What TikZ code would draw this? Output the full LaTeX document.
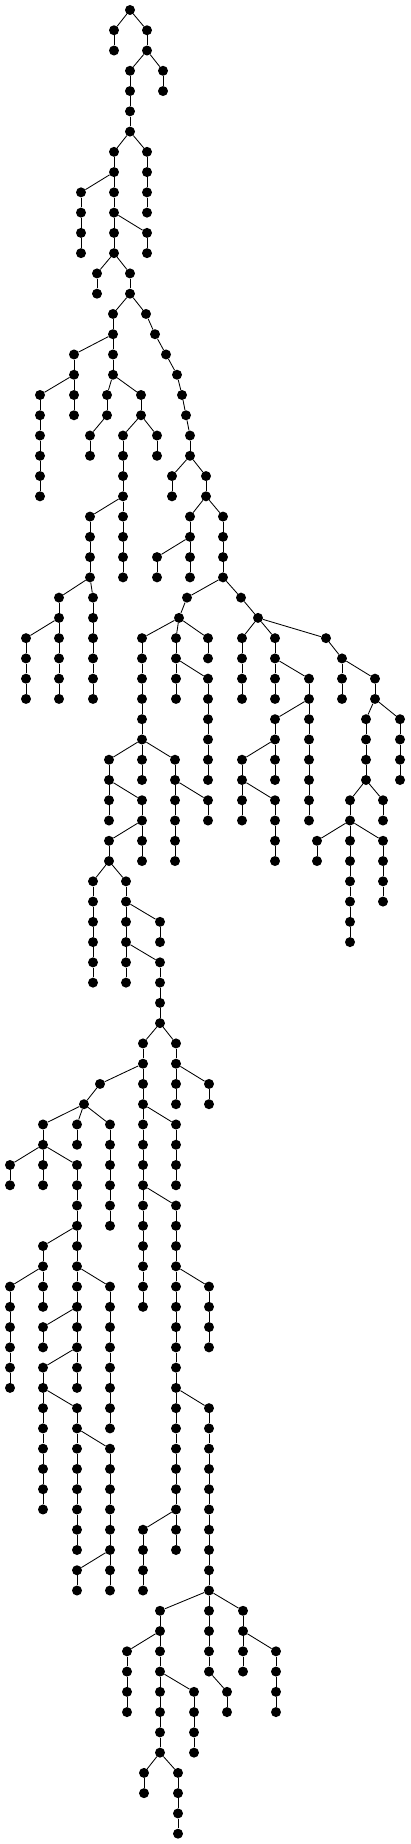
\documentclass[tikz,border=0pt]{standalone}
\usepackage{tikz}
\tikzset{
  treedot/.style={circle,fill=black,inner sep=0pt,minimum size=10pt},
  treeedge/.style={line width=0.85pt,black}
}
\newcommand\TreeNode[4]{\node[treedot] (#1) at (#2,{-10-20.263*#3}) {};\draw[treeedge] (#4) -- (#1);}
\begin{document}
\begin{tikzpicture}[x=1pt,y=1pt]
\useasboundingbox (0,0) rectangle (410,-1844);
\node[treedot] (n0) at (130,-10) {};
\TreeNode{n1}{114}{1}{n0}
\TreeNode{n2}{114}{2}{n1}
\TreeNode{n3}{147}{1}{n0}
\TreeNode{n4}{147}{2}{n3}
\TreeNode{n5}{130}{3}{n4}
\TreeNode{n6}{163}{3}{n4}
\TreeNode{n7}{163}{4}{n6}
\TreeNode{n8}{130}{4}{n5}
\TreeNode{n9}{130}{5}{n8}
\TreeNode{n10}{130}{6}{n9}
\TreeNode{n11}{114}{7}{n10}
\TreeNode{n12}{147}{7}{n10}
\TreeNode{n13}{147}{8}{n12}
\TreeNode{n14}{147}{9}{n13}
\TreeNode{n15}{147}{10}{n14}
\TreeNode{n16}{114}{8}{n11}
\TreeNode{n17}{81}{9}{n16}
\TreeNode{n18}{81}{10}{n17}
\TreeNode{n19}{81}{11}{n18}
\TreeNode{n20}{81}{12}{n19}
\TreeNode{n21}{114}{9}{n16}
\TreeNode{n22}{114}{10}{n21}
\TreeNode{n23}{114}{11}{n22}
\TreeNode{n24}{147}{11}{n22}
\TreeNode{n25}{147}{12}{n24}
\TreeNode{n26}{114}{12}{n23}
\TreeNode{n27}{97}{13}{n26}
\TreeNode{n28}{97}{14}{n27}
\TreeNode{n29}{130}{13}{n26}
\TreeNode{n30}{130}{14}{n29}
\TreeNode{n31}{113}{15}{n30}
\TreeNode{n32}{146}{15}{n30}
\TreeNode{n33}{113}{16}{n31}
\TreeNode{n34}{74}{17}{n33}
\TreeNode{n35}{113}{17}{n33}
\TreeNode{n36}{74}{18}{n34}
\TreeNode{n37}{40}{19}{n36}
\TreeNode{n38}{74}{19}{n36}
\TreeNode{n39}{74}{20}{n38}
\TreeNode{n40}{40}{20}{n37}
\TreeNode{n41}{40}{21}{n40}
\TreeNode{n42}{40}{22}{n41}
\TreeNode{n43}{40}{23}{n42}
\TreeNode{n44}{40}{24}{n43}
\TreeNode{n45}{113}{18}{n35}
\TreeNode{n46}{107}{19}{n45}
\TreeNode{n47}{141}{19}{n45}
\TreeNode{n48}{107}{20}{n46}
\TreeNode{n49}{90}{21}{n48}
\TreeNode{n50}{90}{22}{n49}
\TreeNode{n51}{141}{20}{n47}
\TreeNode{n52}{123}{21}{n51}
\TreeNode{n53}{157}{21}{n51}
\TreeNode{n54}{157}{22}{n53}
\TreeNode{n55}{123}{22}{n52}
\TreeNode{n56}{123}{23}{n55}
\TreeNode{n57}{123}{24}{n56}
\TreeNode{n58}{90}{25}{n57}
\TreeNode{n59}{123}{25}{n57}
\TreeNode{n60}{123}{26}{n59}
\TreeNode{n61}{123}{27}{n60}
\TreeNode{n62}{123}{28}{n61}
\TreeNode{n63}{90}{26}{n58}
\TreeNode{n64}{90}{27}{n63}
\TreeNode{n65}{90}{28}{n64}
\TreeNode{n66}{59}{29}{n65}
\TreeNode{n67}{93}{29}{n65}
\TreeNode{n68}{59}{30}{n66}
\TreeNode{n69}{26}{31}{n68}
\TreeNode{n70}{26}{32}{n69}
\TreeNode{n71}{26}{33}{n70}
\TreeNode{n72}{26}{34}{n71}
\TreeNode{n73}{59}{31}{n68}
\TreeNode{n74}{59}{32}{n73}
\TreeNode{n75}{59}{33}{n74}
\TreeNode{n76}{59}{34}{n75}
\TreeNode{n77}{93}{30}{n67}
\TreeNode{n78}{93}{31}{n77}
\TreeNode{n79}{93}{32}{n78}
\TreeNode{n80}{93}{33}{n79}
\TreeNode{n81}{93}{34}{n80}
\TreeNode{n82}{155}{16}{n32}
\TreeNode{n83}{166}{17}{n82}
\TreeNode{n84}{177}{18}{n83}
\TreeNode{n85}{182}{19}{n84}
\TreeNode{n86}{186}{20}{n85}
\TreeNode{n87}{190}{21}{n86}
\TreeNode{n88}{190}{22}{n87}
\TreeNode{n89}{172}{23}{n88}
\TreeNode{n90}{172}{24}{n89}
\TreeNode{n91}{206}{23}{n88}
\TreeNode{n92}{206}{24}{n91}
\TreeNode{n93}{190}{25}{n92}
\TreeNode{n94}{223}{25}{n92}
\TreeNode{n95}{190}{26}{n93}
\TreeNode{n96}{157}{27}{n95}
\TreeNode{n97}{157}{28}{n96}
\TreeNode{n98}{190}{27}{n95}
\TreeNode{n99}{190}{28}{n98}
\TreeNode{n100}{223}{26}{n94}
\TreeNode{n101}{223}{27}{n100}
\TreeNode{n102}{223}{28}{n101}
\TreeNode{n103}{187}{29}{n102}
\TreeNode{n104}{241}{29}{n102}
\TreeNode{n105}{179}{30}{n103}
\TreeNode{n106}{142}{31}{n105}
\TreeNode{n107}{176}{31}{n105}
\TreeNode{n108}{208}{31}{n105}
\TreeNode{n109}{208}{32}{n108}
\TreeNode{n110}{176}{32}{n107}
\TreeNode{n111}{176}{33}{n110}
\TreeNode{n112}{176}{34}{n111}
\TreeNode{n113}{208}{33}{n110}
\TreeNode{n114}{208}{34}{n113}
\TreeNode{n115}{208}{35}{n114}
\TreeNode{n116}{208}{36}{n115}
\TreeNode{n117}{208}{37}{n116}
\TreeNode{n118}{208}{38}{n117}
\TreeNode{n119}{142}{32}{n106}
\TreeNode{n120}{142}{33}{n119}
\TreeNode{n121}{142}{34}{n120}
\TreeNode{n122}{142}{35}{n121}
\TreeNode{n123}{142}{36}{n122}
\TreeNode{n124}{109}{37}{n123}
\TreeNode{n125}{142}{37}{n123}
\TreeNode{n126}{175}{37}{n123}
\TreeNode{n127}{142}{38}{n125}
\TreeNode{n128}{109}{38}{n124}
\TreeNode{n129}{109}{39}{n128}
\TreeNode{n130}{109}{40}{n129}
\TreeNode{n131}{142}{39}{n128}
\TreeNode{n132}{142}{40}{n131}
\TreeNode{n133}{109}{41}{n132}
\TreeNode{n134}{142}{41}{n132}
\TreeNode{n135}{142}{42}{n134}
\TreeNode{n136}{109}{42}{n133}
\TreeNode{n137}{93}{43}{n136}
\TreeNode{n138}{126}{43}{n136}
\TreeNode{n139}{93}{44}{n137}
\TreeNode{n140}{93}{45}{n139}
\TreeNode{n141}{93}{46}{n140}
\TreeNode{n142}{93}{47}{n141}
\TreeNode{n143}{93}{48}{n142}
\TreeNode{n144}{126}{44}{n138}
\TreeNode{n145}{126}{45}{n144}
\TreeNode{n146}{160}{45}{n144}
\TreeNode{n147}{160}{46}{n146}
\TreeNode{n148}{126}{46}{n145}
\TreeNode{n149}{126}{47}{n148}
\TreeNode{n150}{126}{48}{n149}
\TreeNode{n151}{160}{47}{n148}
\TreeNode{n152}{160}{48}{n151}
\TreeNode{n153}{160}{49}{n152}
\TreeNode{n154}{160}{50}{n153}
\TreeNode{n155}{143}{51}{n154}
\TreeNode{n156}{176}{51}{n154}
\TreeNode{n157}{143}{52}{n155}
\TreeNode{n158}{176}{52}{n156}
\TreeNode{n159}{176}{53}{n158}
\TreeNode{n160}{176}{54}{n159}
\TreeNode{n161}{209}{53}{n158}
\TreeNode{n162}{209}{54}{n161}
\TreeNode{n163}{100}{53}{n157}
\TreeNode{n164}{84}{54}{n163}
\TreeNode{n165}{43}{55}{n164}
\TreeNode{n166}{77}{55}{n164}
\TreeNode{n167}{110}{55}{n164}
\TreeNode{n168}{77}{56}{n166}
\TreeNode{n169}{43}{56}{n165}
\TreeNode{n170}{10}{57}{n169}
\TreeNode{n171}{10}{58}{n170}
\TreeNode{n172}{43}{57}{n169}
\TreeNode{n173}{43}{58}{n172}
\TreeNode{n174}{77}{57}{n169}
\TreeNode{n175}{77}{58}{n174}
\TreeNode{n176}{77}{59}{n175}
\TreeNode{n177}{77}{60}{n176}
\TreeNode{n178}{110}{56}{n167}
\TreeNode{n179}{110}{57}{n178}
\TreeNode{n180}{110}{58}{n179}
\TreeNode{n181}{110}{59}{n180}
\TreeNode{n182}{110}{60}{n181}
\TreeNode{n183}{143}{53}{n157}
\TreeNode{n184}{143}{54}{n183}
\TreeNode{n185}{143}{55}{n184}
\TreeNode{n186}{176}{55}{n184}
\TreeNode{n187}{176}{56}{n186}
\TreeNode{n188}{176}{57}{n187}
\TreeNode{n189}{176}{58}{n188}
\TreeNode{n190}{143}{56}{n185}
\TreeNode{n191}{143}{57}{n190}
\TreeNode{n192}{143}{58}{n191}
\TreeNode{n193}{143}{59}{n192}
\TreeNode{n194}{176}{59}{n192}
\TreeNode{n195}{143}{60}{n193}
\TreeNode{n196}{143}{61}{n195}
\TreeNode{n197}{143}{62}{n196}
\TreeNode{n198}{143}{63}{n197}
\TreeNode{n199}{143}{64}{n198}
\TreeNode{n200}{176}{60}{n194}
\TreeNode{n201}{176}{61}{n200}
\TreeNode{n202}{176}{62}{n201}
\TreeNode{n203}{176}{63}{n202}
\TreeNode{n204}{209}{63}{n202}
\TreeNode{n205}{209}{64}{n204}
\TreeNode{n206}{209}{65}{n205}
\TreeNode{n207}{209}{66}{n206}
\TreeNode{n208}{176}{64}{n203}
\TreeNode{n209}{176}{65}{n208}
\TreeNode{n210}{176}{66}{n209}
\TreeNode{n211}{176}{67}{n210}
\TreeNode{n212}{176}{68}{n211}
\TreeNode{n213}{176}{69}{n212}
\TreeNode{n214}{209}{69}{n212}
\TreeNode{n215}{176}{70}{n213}
\TreeNode{n216}{176}{71}{n215}
\TreeNode{n217}{176}{72}{n216}
\TreeNode{n218}{176}{73}{n217}
\TreeNode{n219}{176}{74}{n218}
\TreeNode{n220}{143}{75}{n219}
\TreeNode{n221}{176}{75}{n219}
\TreeNode{n222}{176}{76}{n221}
\TreeNode{n223}{143}{76}{n220}
\TreeNode{n224}{143}{77}{n223}
\TreeNode{n225}{143}{78}{n224}
\TreeNode{n226}{209}{70}{n214}
\TreeNode{n227}{209}{71}{n226}
\TreeNode{n228}{209}{72}{n227}
\TreeNode{n229}{209}{73}{n228}
\TreeNode{n230}{209}{74}{n229}
\TreeNode{n231}{209}{75}{n230}
\TreeNode{n232}{209}{76}{n231}
\TreeNode{n233}{209}{77}{n232}
\TreeNode{n234}{209}{78}{n233}
\TreeNode{n235}{160}{79}{n234}
\TreeNode{n236}{209}{79}{n234}
\TreeNode{n237}{243}{79}{n234}
\TreeNode{n238}{160}{80}{n235}
\TreeNode{n239}{127}{81}{n238}
\TreeNode{n240}{160}{81}{n238}
\TreeNode{n241}{127}{82}{n239}
\TreeNode{n242}{127}{83}{n241}
\TreeNode{n243}{127}{84}{n242}
\TreeNode{n244}{160}{82}{n240}
\TreeNode{n245}{160}{83}{n244}
\TreeNode{n246}{194}{83}{n244}
\TreeNode{n247}{194}{84}{n246}
\TreeNode{n248}{194}{85}{n247}
\TreeNode{n249}{194}{86}{n248}
\TreeNode{n250}{160}{84}{n245}
\TreeNode{n251}{160}{85}{n250}
\TreeNode{n252}{160}{86}{n251}
\TreeNode{n253}{144}{87}{n252}
\TreeNode{n254}{144}{88}{n253}
\TreeNode{n255}{178}{87}{n252}
\TreeNode{n256}{178}{88}{n255}
\TreeNode{n257}{178}{89}{n256}
\TreeNode{n258}{178}{90}{n257}
\TreeNode{n259}{209}{80}{n236}
\TreeNode{n260}{209}{81}{n259}
\TreeNode{n261}{209}{82}{n260}
\TreeNode{n262}{227}{83}{n261}
\TreeNode{n263}{227}{84}{n262}
\TreeNode{n264}{243}{80}{n237}
\TreeNode{n265}{243}{81}{n264}
\TreeNode{n266}{243}{82}{n265}
\TreeNode{n267}{276}{81}{n264}
\TreeNode{n268}{276}{82}{n267}
\TreeNode{n269}{276}{83}{n268}
\TreeNode{n270}{276}{84}{n269}
\TreeNode{n271}{43}{61}{n177}
\TreeNode{n272}{43}{62}{n271}
\TreeNode{n273}{10}{63}{n272}
\TreeNode{n274}{10}{64}{n273}
\TreeNode{n275}{10}{65}{n274}
\TreeNode{n276}{10}{66}{n275}
\TreeNode{n277}{10}{67}{n276}
\TreeNode{n278}{10}{68}{n277}
\TreeNode{n279}{43}{63}{n272}
\TreeNode{n280}{43}{64}{n279}
\TreeNode{n281}{77}{61}{n177}
\TreeNode{n282}{77}{62}{n281}
\TreeNode{n283}{77}{63}{n282}
\TreeNode{n284}{110}{63}{n282}
\TreeNode{n285}{110}{64}{n284}
\TreeNode{n286}{110}{65}{n285}
\TreeNode{n287}{110}{66}{n286}
\TreeNode{n288}{110}{67}{n287}
\TreeNode{n289}{110}{68}{n288}
\TreeNode{n290}{110}{69}{n289}
\TreeNode{n291}{110}{70}{n290}
\TreeNode{n292}{77}{64}{n283}
\TreeNode{n293}{43}{65}{n292}
\TreeNode{n294}{43}{66}{n293}
\TreeNode{n295}{77}{65}{n292}
\TreeNode{n296}{77}{66}{n295}
\TreeNode{n297}{43}{67}{n296}
\TreeNode{n298}{77}{67}{n296}
\TreeNode{n299}{77}{68}{n298}
\TreeNode{n300}{43}{68}{n297}
\TreeNode{n301}{43}{69}{n300}
\TreeNode{n302}{43}{70}{n301}
\TreeNode{n303}{43}{71}{n302}
\TreeNode{n304}{43}{72}{n303}
\TreeNode{n305}{43}{73}{n304}
\TreeNode{n306}{43}{74}{n305}
\TreeNode{n307}{77}{69}{n300}
\TreeNode{n308}{77}{70}{n307}
\TreeNode{n309}{77}{71}{n308}
\TreeNode{n310}{110}{71}{n308}
\TreeNode{n311}{77}{72}{n309}
\TreeNode{n312}{77}{73}{n311}
\TreeNode{n313}{77}{74}{n312}
\TreeNode{n314}{77}{75}{n313}
\TreeNode{n315}{77}{76}{n314}
\TreeNode{n316}{110}{72}{n310}
\TreeNode{n317}{110}{73}{n316}
\TreeNode{n318}{110}{74}{n317}
\TreeNode{n319}{110}{75}{n318}
\TreeNode{n320}{110}{76}{n319}
\TreeNode{n321}{77}{77}{n320}
\TreeNode{n322}{77}{78}{n321}
\TreeNode{n323}{110}{77}{n320}
\TreeNode{n324}{110}{78}{n323}
\TreeNode{n325}{258}{30}{n104}
\TreeNode{n326}{242}{31}{n325}
\TreeNode{n327}{242}{32}{n326}
\TreeNode{n328}{242}{33}{n327}
\TreeNode{n329}{242}{34}{n328}
\TreeNode{n330}{275}{31}{n325}
\TreeNode{n331}{275}{32}{n330}
\TreeNode{n332}{275}{33}{n331}
\TreeNode{n333}{275}{34}{n332}
\TreeNode{n334}{309}{33}{n331}
\TreeNode{n335}{309}{34}{n334}
\TreeNode{n336}{275}{35}{n335}
\TreeNode{n337}{309}{35}{n335}
\TreeNode{n338}{309}{36}{n337}
\TreeNode{n339}{309}{37}{n338}
\TreeNode{n340}{309}{38}{n339}
\TreeNode{n341}{309}{39}{n340}
\TreeNode{n342}{309}{40}{n341}
\TreeNode{n343}{275}{36}{n336}
\TreeNode{n344}{242}{37}{n343}
\TreeNode{n345}{275}{37}{n343}
\TreeNode{n346}{275}{38}{n345}
\TreeNode{n347}{242}{38}{n344}
\TreeNode{n348}{242}{39}{n347}
\TreeNode{n349}{242}{40}{n348}
\TreeNode{n350}{275}{39}{n347}
\TreeNode{n351}{275}{40}{n350}
\TreeNode{n352}{275}{41}{n351}
\TreeNode{n353}{275}{42}{n352}
\TreeNode{n354}{326}{31}{n325}
\TreeNode{n355}{342}{32}{n354}
\TreeNode{n356}{342}{33}{n355}
\TreeNode{n357}{342}{34}{n356}
\TreeNode{n358}{375}{33}{n355}
\TreeNode{n359}{375}{34}{n358}
\TreeNode{n360}{366}{35}{n359}
\TreeNode{n361}{400}{35}{n359}
\TreeNode{n362}{366}{36}{n360}
\TreeNode{n363}{366}{37}{n362}
\TreeNode{n364}{366}{38}{n363}
\TreeNode{n365}{400}{36}{n361}
\TreeNode{n366}{400}{37}{n365}
\TreeNode{n367}{400}{38}{n366}
\TreeNode{n368}{350}{39}{n364}
\TreeNode{n369}{383}{39}{n364}
\TreeNode{n370}{383}{40}{n369}
\TreeNode{n371}{350}{40}{n368}
\TreeNode{n372}{317}{41}{n371}
\TreeNode{n373}{317}{42}{n372}
\TreeNode{n374}{350}{41}{n371}
\TreeNode{n375}{350}{42}{n374}
\TreeNode{n376}{350}{43}{n375}
\TreeNode{n377}{350}{44}{n376}
\TreeNode{n378}{350}{45}{n377}
\TreeNode{n379}{350}{46}{n378}
\TreeNode{n380}{383}{41}{n371}
\TreeNode{n381}{383}{42}{n380}
\TreeNode{n382}{383}{43}{n381}
\TreeNode{n383}{383}{44}{n382}
\TreeNode{n384}{175}{38}{n126}
\TreeNode{n385}{175}{39}{n384}
\TreeNode{n386}{175}{40}{n385}
\TreeNode{n387}{175}{41}{n386}
\TreeNode{n388}{175}{42}{n387}
\TreeNode{n389}{208}{39}{n384}
\TreeNode{n390}{208}{40}{n389}
\end{tikzpicture}
\end{document}
